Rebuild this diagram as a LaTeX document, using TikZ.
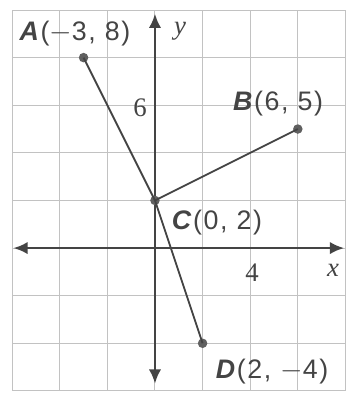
\documentclass[tikz,border=0pt]{standalone}
\usepackage{fontspec}
\setmainfont{Liberation Serif}
\newfontfamily\ptfont[LetterSpace=6]{Liberation Sans}
\usetikzlibrary{arrows.meta}
\definecolor{inkgray}{HTML}{444444}
\definecolor{gridgray}{HTML}{C2C2C2}

\begin{document}
\begin{tikzpicture}[x=0.5cm,y=0.5cm,
	dot/.style={circle,fill=inkgray!85,inner sep=0pt,minimum size=2mm},
	ptlabel/.style={font=\ptfont\fontsize{16}{16}\selectfont,text=inkgray,inner sep=0pt},
	axlabel/.style={font=\fontsize{16}{16}\selectfont,text=inkgray,inner sep=0pt},
	axis/.style={inkgray,line width=1.6pt,{Latex[length=3mm,width=2.6mm]}-{Latex[length=3mm,width=2.6mm]}}]
	
	\useasboundingbox (-6.51,-6.13) rectangle (8.03,10.42);
	
	\draw[gridgray,line width=0.6pt] (-6,-6) grid[step=2] (8,10);
	
	% axes
	\coordinate (xl) at (-5.95,0);
	\coordinate (xr) at (7.95,0);
	\coordinate (yb) at (0,-5.7);
	\coordinate (yt) at (0,9.85);
	\draw[axis] (xl) -- (xr);
	\draw[axis] (yb) -- (yt);
	
	\node[axlabel] (xlab) at (7.48,-0.92) {\textit{x}};
	\node[axlabel] (ylab) at (1.05,9.12) {\textit{y}};
	\node[axlabel] (six) at (-0.63,5.88) {6};
	\node[axlabel] (four) at (4.08,-1.05) {4};
	
	% points
	\node[dot] (A) at (-3,8) {};
	\node[dot] (B) at (6,5) {};
	\node[dot] (C) at (0,2) {};
	\node[dot] (D) at (2,-4) {};
	
	\draw[inkgray,line width=1.1pt] (A.center) -- (C.center);
	\draw[inkgray,line width=1.1pt] (C.center) -- (D.center);
	\draw[inkgray,line width=1.1pt] (C.center) -- (B.center);
	
	\node[ptlabel] (Alab) at (-3.36,9.03) {\textbf{\textit{A}}($-$3, 8)};
	\node[ptlabel] (Blab) at (5.17,6.09) {\textbf{\textit{B}}(6, 5)};
	\node[ptlabel] (Clab) at (2.6,1.05) {\textbf{\textit{C}}(0, 2)};
	\node[ptlabel] (Dlab) at (4.92,-5.2) {\textbf{\textit{D}}(2, $-$4)};
	
\end{tikzpicture}
\end{document}
